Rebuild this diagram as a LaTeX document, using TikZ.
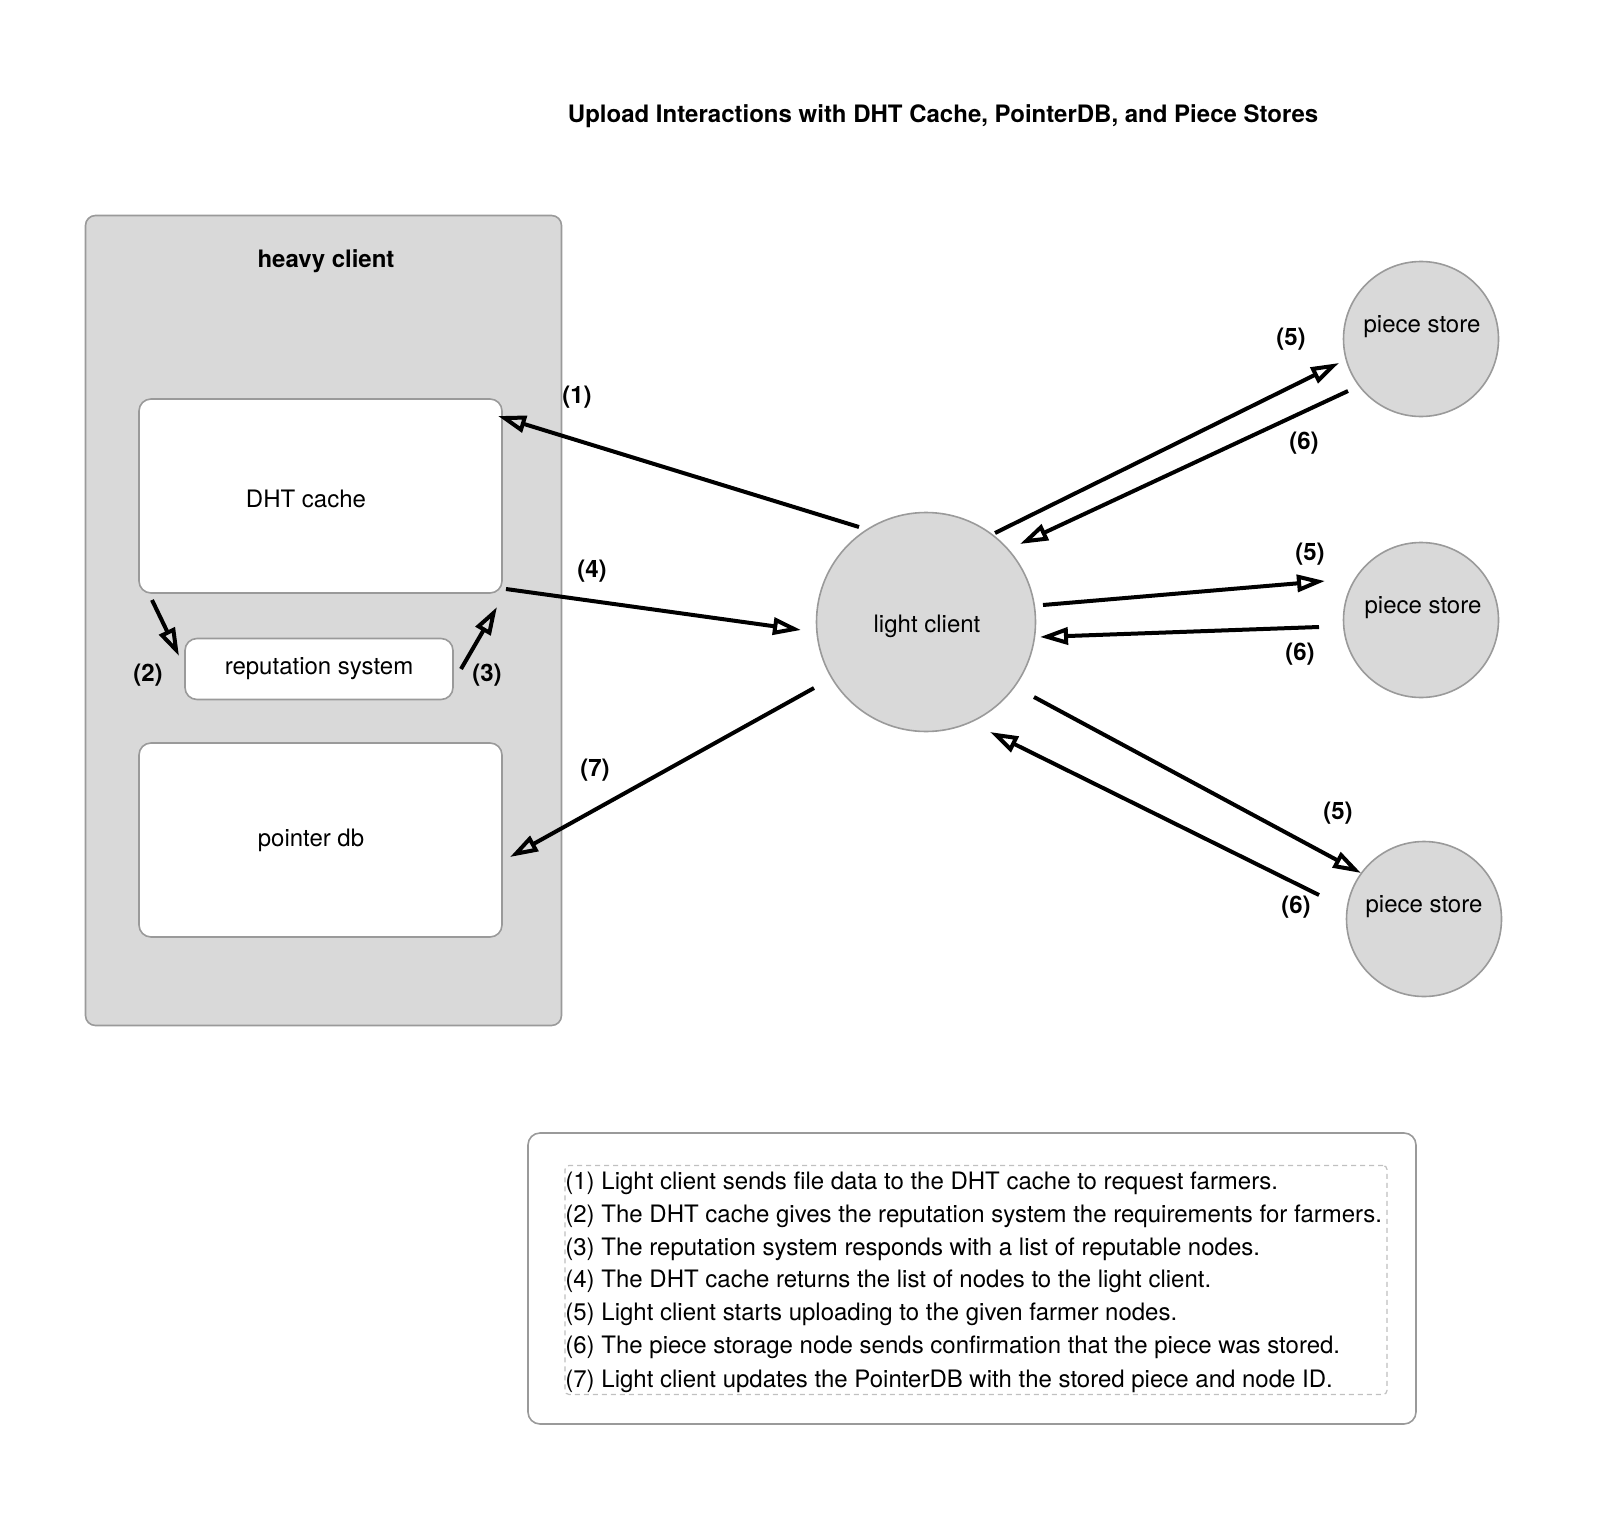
\documentclass[tikz,border=0pt]{standalone}
\usepackage{fontspec}
\setmainfont{TeX Gyre Heros}
\usetikzlibrary{arrows.meta}
\definecolor{boxgray}{HTML}{D9D9D9}
\definecolor{edgegray}{HTML}{9A9A9A}
\definecolor{dashgray}{HTML}{C0C0C0}
\begin{document}
\begin{tikzpicture}[x=0.5pt,y=-0.5pt,
  txt/.style={font=\fontsize{12}{14.4}\selectfont, inner sep=0pt},
  lbl/.style={font=\fontsize{12}{14.4}\selectfont\bfseries, inner sep=0pt},
  container/.style={draw=edgegray, line width=0.8pt, fill=boxgray, rounded corners=5pt, inner sep=0pt},
  whitebox/.style={draw=edgegray, line width=0.8pt, fill=white, rounded corners=6pt, inner sep=0pt},
  circ/.style={circle, draw=edgegray, line width=0.8pt, fill=boxgray, inner sep=0pt},
  flow/.style={line width=2pt, -{Triangle[open, length=14pt, width=8.5pt, line width=2pt]}},
  legline/.style={txt, anchor=west}]
\useasboundingbox (0,0) rectangle (1616,1530);

% title
\node[lbl] (title) at (943,116) {Upload Interactions with DHT Cache, PointerDB, and Piece Stores};

% heavy client
\node[container, minimum width=238pt, minimum height=405pt] (heavy) at (323.5,620.5) {};
\node[lbl] (heavyt) at (326,261) {heavy client};
\node[whitebox, minimum width=181.5pt, minimum height=97pt] (dht) at (320.5,496) {};
\node[txt] (dhtt) at (306,499) {DHT cache};
\node[whitebox, minimum width=134pt, minimum height=30.5pt, txt] (rep) at (319,669) {reputation system};
\node[whitebox, minimum width=181.5pt, minimum height=97pt] (pdb) at (320.5,840) {};
\node[txt] (pdbt) at (311,840) {pointer db};

% light client and piece stores
\node[circ, minimum size=109.5pt] (lc) at (926,622) {};
\node[txt] (lct) at (927,626) {light client};
\node[circ, minimum size=77.5pt] (ps1) at (1421,339) {};
\node[txt] (ps1t) at (1422,327) {piece store};
\node[circ, minimum size=77.5pt] (ps2) at (1421,620) {};
\node[txt] (ps2t) at (1423,608) {piece store};
\node[circ, minimum size=77.5pt] (ps3) at (1424,919) {};
\node[txt] (ps3t) at (1424,907) {piece store};

% connector end points
\coordinate (a1s) at (859,527);  \coordinate (a1e) at (498,416);
\coordinate (a2s) at (152,600);  \coordinate (a2e) at (179,656);
\coordinate (a3s) at (461,669);  \coordinate (a3e) at (497,607);
\coordinate (a4s) at (506,589);  \coordinate (a4e) at (801,630);
\coordinate (a7s) at (814,688);  \coordinate (a7e) at (510,857);
\coordinate (a5as) at (995,533); \coordinate (a5ae) at (1339,363);
\coordinate (a6as) at (1348,391); \coordinate (a6ae) at (1020,544);
\coordinate (a5bs) at (1043,605); \coordinate (a5be) at (1325,581);
\coordinate (a6bs) at (1319,627); \coordinate (a6be) at (1040,637);
\coordinate (a5cs) at (1034,697); \coordinate (a5ce) at (1361,873);
\coordinate (a6cs) at (1319,895); \coordinate (a6ce) at (990,732);

\draw[flow] (a1s) -- (a1e);
\draw[flow] (a2s) -- (a2e);
\draw[flow] (a3s) -- (a3e);
\draw[flow] (a4s) -- (a4e);
\draw[flow] (a7s) -- (a7e);
\draw[flow] (a5as) -- (a5ae);
\draw[flow] (a6as) -- (a6ae);
\draw[flow] (a5bs) -- (a5be);
\draw[flow] (a6bs) -- (a6be);
\draw[flow] (a5cs) -- (a5ce);
\draw[flow] (a6cs) -- (a6ce);

% step labels
\node[lbl] (l1) at (577,397) {(1)};
\node[lbl] (l2) at (148,675) {(2)};
\node[lbl] (l3) at (487,675) {(3)};
\node[lbl] (l4) at (592,571) {(4)};
\node[lbl] (l7) at (595,770) {(7)};
\node[lbl] (l5a) at (1291,339) {(5)};
\node[lbl] (l6a) at (1304,443) {(6)};
\node[lbl] (l5b) at (1310,554) {(5)};
\node[lbl] (l6b) at (1300,654) {(6)};
\node[lbl] (l5c) at (1338,813) {(5)};
\node[lbl] (l6c) at (1296,907) {(6)};

% legend
\node[draw=edgegray, line width=0.8pt, fill=white, rounded corners=6pt, minimum width=444pt, minimum height=145.5pt, inner sep=0pt] (legend) at (972,1278.5) {};
\node[draw=dashgray, line width=0.6pt, dash pattern=on 2.5pt off 2pt, rounded corners=2pt, minimum width=411pt, minimum height=114.5pt, inner sep=0pt] (legin) at (976,1280) {};
\node[legline] (t1) at (565,1183) {(1) Light client sends file data to the DHT cache to request farmers.};
\node[legline] (t2) at (565,1216) {(2) The DHT cache gives the reputation system the requirements for farmers.};
\node[legline] (t3) at (565,1249) {(3) The reputation system responds with a list of reputable nodes.};
\node[legline] (t4) at (565,1281) {(4) The DHT cache returns the list of nodes to the light client.};
\node[legline] (t5) at (565,1314) {(5) Light client starts uploading to the given farmer nodes.};
\node[legline] (t6) at (565,1347) {(6) The piece storage node sends confirmation that the piece was stored.};
\node[legline] (t7) at (565,1381) {(7) Light client updates the PointerDB with the stored piece and node ID.};
\end{tikzpicture}
\end{document}
